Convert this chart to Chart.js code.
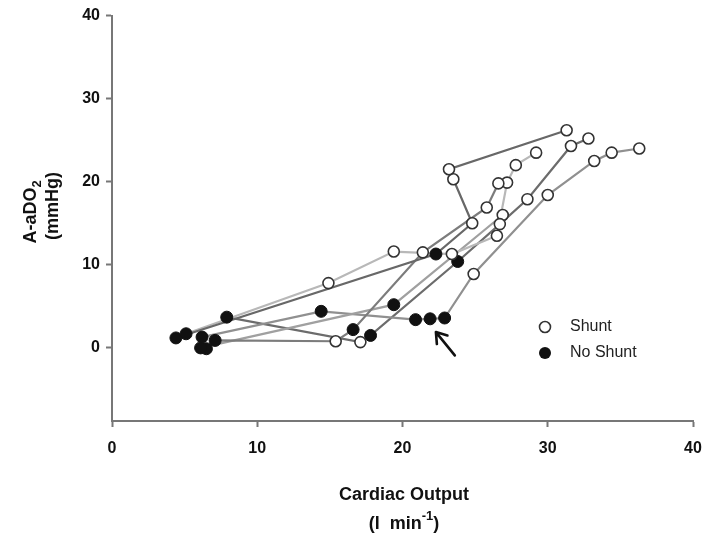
<!doctype html>
<html lang="en">
  <head>
    <meta charset="utf-8">
    <title>A-aDO2 vs Cardiac Output</title>
    <script src="https://cdn.jsdelivr.net/npm/chart.js@4"></script>
    <style>
      html, body { margin: 0; padding: 0; background: #fff; }
      #wrap { width: 707px; height: 539px; }
    </style>
  </head>
  <body>
    <div id="wrap"><canvas id="aado2Chart" width="707" height="539"></canvas></div>

    <script>
      // one trajectory per animal: cardiac output (l/min), A-aDO2 (mmHg), shunt open (1) or not (0)
      const subjectCO = [
        [4.4, 22.3, 24.8, 23.5, 23.2, 31.3],
        [5.1, 14.9, 19.4, 23.4, 26.5, 27.2, 27.8, 29.2],
        [6.5, 7.1, 15.4, 16.6, 21.4, 25.8, 26.6],
        [6.1, 19.4, 26.9],
        [6.2, 14.4, 20.9, 21.9, 22.9, 24.9, 30.0, 33.2, 34.4, 36.3],
        [7.9, 17.1, 17.8, 23.8, 26.7, 28.6, 31.6, 32.8]
      ];
      const subjectAaDO2 = [
        [1.2, 11.3, 15.0, 20.3, 21.5, 26.2],
        [1.7, 7.8, 11.6, 11.3, 13.5, 19.9, 22.0, 23.5],
        [-0.1, 0.9, 0.8, 2.2, 11.5, 16.9, 19.8],
        [0.0, 5.2, 16.0],
        [1.3, 4.4, 3.4, 3.5, 3.6, 8.9, 18.4, 22.5, 23.5, 24.0],
        [3.7, 0.7, 1.5, 10.4, 14.9, 17.9, 24.3, 25.2]
      ];
      const subjectShunt = [
        [0, 0, 1, 1, 1, 1],
        [0, 1, 1, 1, 1, 1, 1, 1],
        [0, 0, 1, 0, 1, 1, 1],
        [0, 0, 1],
        [0, 0, 0, 0, 0, 1, 1, 1, 1, 1],
        [0, 1, 0, 0, 1, 1, 1, 1]
      ];
      const lineGreys = ['#686868', '#b8b8b8', '#7c7c7c', '#a0a0a0', '#909090', '#6c6c6c'];

      const xTicks = [0, 10, 20, 30, 40];
      const yTicks = [0, 10, 20, 30, 40];

      // arrow pointing at the no-shunt points, in data units
      const arrowTail = [23.6, -0.9];
      const arrowHead = [22.3, 1.9];

      const FONT = '"Liberation Sans", Arial, sans-serif';

      const pointsFor = (flag) => {
        const pts = [];
        subjectCO.forEach((xs, i) => {
          xs.forEach((x, j) => {
            if (subjectShunt[i][j] === flag) pts.push({ x: x, y: subjectAaDO2[i][j] });
          });
        });
        return pts;
      };

      const lineSets = subjectCO.map((xs, i) => ({
        type: 'line',
        data: xs.map((x, j) => ({ x: x, y: subjectAaDO2[i][j] })),
        borderColor: lineGreys[i],
        borderWidth: 2.2,
        pointRadius: 0,
        tension: 0,
        order: 2
      }));

      const pointSets = [
        {
          label: 'Shunt',
          data: pointsFor(1),
          showLine: false,
          pointRadius: 5.5,
          pointBackgroundColor: '#ffffff',
          pointBorderColor: '#333333',
          pointBorderWidth: 1.6,
          order: 0
        },
        {
          label: 'No Shunt',
          data: pointsFor(0),
          showLine: false,
          pointRadius: 6,
          pointBackgroundColor: '#111111',
          pointBorderColor: '#111111',
          pointBorderWidth: 1,
          order: 0
        }
      ];

      // axis titles with sub/superscripts, legend and arrow
      const decorations = {
        id: 'decorations',
        afterDatasetsDraw(chart) {
          const ctx = chart.ctx;
          const xs = chart.scales.x, ys = chart.scales.y;
          ctx.save();

          // arrow
          const tx = xs.getPixelForValue(arrowTail[0]), ty = ys.getPixelForValue(arrowTail[1]);
          const hx = xs.getPixelForValue(arrowHead[0]), hy = ys.getPixelForValue(arrowHead[1]);
          const ang = Math.atan2(hy - ty, hx - tx);
          ctx.strokeStyle = '#111';
          ctx.lineWidth = 2.6;
          ctx.lineCap = 'round';
          ctx.beginPath();
          ctx.moveTo(tx, ty);
          ctx.lineTo(hx, hy);
          ctx.moveTo(hx, hy);
          ctx.lineTo(hx - 12 * Math.cos(ang - 0.6), hy - 12 * Math.sin(ang - 0.6));
          ctx.moveTo(hx, hy);
          ctx.lineTo(hx - 12 * Math.cos(ang + 0.6), hy - 12 * Math.sin(ang + 0.6));
          ctx.stroke();

          // legend
          const lx = 545, ly = 327;
          ctx.lineWidth = 1.6;
          ctx.strokeStyle = '#333';
          ctx.fillStyle = '#fff';
          ctx.beginPath(); ctx.arc(lx, ly, 5.5, 0, Math.PI * 2); ctx.fill(); ctx.stroke();
          ctx.fillStyle = '#111';
          ctx.beginPath(); ctx.arc(lx, ly + 26, 6, 0, Math.PI * 2); ctx.fill();
          ctx.font = '16px ' + FONT;
          ctx.fillStyle = '#222';
          ctx.textBaseline = 'middle';
          ctx.textAlign = 'left';
          ctx.fillText('Shunt', lx + 25, ly);
          ctx.fillText('No Shunt', lx + 25, ly + 26);

          // x title
          ctx.fillStyle = '#111';
          ctx.textBaseline = 'alphabetic';
          ctx.font = 'bold 18px ' + FONT;
          ctx.textAlign = 'center';
          const cx = 404;
          ctx.fillText('Cardiac Output', cx, 500);
          const p1 = '(l  min', p2 = '-1', p3 = ')';
          const w1 = ctx.measureText(p1).width, w3 = ctx.measureText(p3).width;
          ctx.font = 'bold 13px ' + FONT;
          const w2 = ctx.measureText(p2).width;
          let sx = cx - (w1 + w2 + w3) / 2;
          ctx.textAlign = 'left';
          ctx.font = 'bold 18px ' + FONT;
          ctx.fillText(p1, sx, 529);
          ctx.font = 'bold 13px ' + FONT;
          ctx.fillText(p2, sx + w1, 520);
          ctx.font = 'bold 18px ' + FONT;
          ctx.fillText(p3, sx + w1 + w2, 529);

          // y title, rotated
          const cy = 212;
          ctx.save();
          ctx.translate(36, cy);
          ctx.rotate(-Math.PI / 2);
          ctx.font = 'bold 18px ' + FONT;
          const a1 = 'A-aDO';
          const aw1 = ctx.measureText(a1).width;
          ctx.font = 'bold 13px ' + FONT;
          const aw2 = ctx.measureText('2').width;
          ctx.textAlign = 'left';
          ctx.font = 'bold 18px ' + FONT;
          ctx.fillText(a1, -(aw1 + aw2) / 2, 0);
          ctx.font = 'bold 13px ' + FONT;
          ctx.fillText('2', -(aw1 + aw2) / 2 + aw1, 5);
          ctx.restore();

          ctx.save();
          ctx.translate(58, cy - 6);
          ctx.rotate(-Math.PI / 2);
          ctx.font = 'bold 18px ' + FONT;
          ctx.textAlign = 'center';
          ctx.fillText('(mmHg)', 0, 0);
          ctx.restore();

          ctx.restore();
        }
      };

      const axisGrid = {
        drawOnChartArea: false,
        drawTicks: true,
        tickLength: 6,
        tickColor: '#777',
        tickWidth: 2
      };

      new Chart(document.getElementById('aado2Chart'), {
        type: 'scatter',
        data: { datasets: pointSets.concat(lineSets) },
        options: {
          responsive: false,
          animation: false,
          layout: { padding: { left: 0, right: 0, top: 15, bottom: 0 } },
          plugins: {
            legend: { display: false },
            tooltip: { enabled: false }
          },
          scales: {
            x: {
              type: 'linear',
              min: 0,
              max: 40,
              afterBuildTicks: (s) => { s.ticks = xTicks.map(v => ({ value: v })); },
              afterFit: (s) => { s.height = 118; s.paddingRight = 14; },
              grid: axisGrid,
              border: { color: '#777', width: 2 },
              ticks: {
                color: '#111',
                padding: 12,
                maxRotation: 0,
                font: { family: FONT, size: 16, weight: 'bold' }
              }
            },
            y: {
              type: 'linear',
              min: -8.8,
              max: 40,
              afterBuildTicks: (s) => { s.ticks = yTicks.map(v => ({ value: v })); },
              afterFit: (s) => { s.width = 112; },
              grid: axisGrid,
              border: { color: '#777', width: 2 },
              ticks: {
                color: '#111',
                padding: 6,
                font: { family: FONT, size: 16, weight: 'bold' }
              }
            }
          }
        },
        plugins: [decorations]
      });
    </script>
  </body>
</html>
